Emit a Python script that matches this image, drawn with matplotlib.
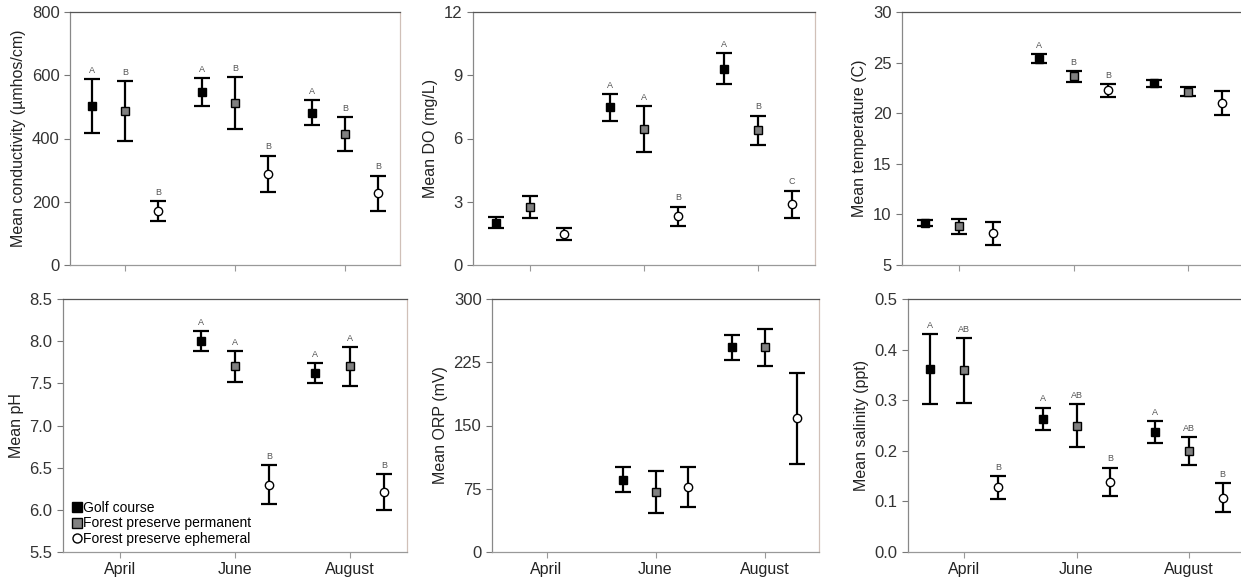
import matplotlib
matplotlib.use("Agg")
import matplotlib.pyplot as plt
import numpy as np
from matplotlib.lines import Line2D

plt.rcParams['font.family'] = ['Liberation Sans', 'DejaVu Sans']

months = ["April", "June", "August"]
groups = ["Golf course", "Forest preserve permanent", "Forest preserve ephemeral"]

# conductivity
cond_mean = [[502, 547, 482], [487, 513, 415], [170, 289, 227]]
cond_err = [[86, 44, 40], [94, 82, 54], [31, 57, 56]]
cond_let = [["A", "A", "A"], ["B", "B", "B"], ["B", "B", "B"]]

# DO
do_mean = [[2.0, 7.48, 9.32], [2.75, 6.44, 6.38], [1.47, 2.32, 2.89]]
do_err = [[0.26, 0.63, 0.72], [0.52, 1.09, 0.71], [0.28, 0.45, 0.64]]
do_let = [["", "A", "A"], ["", "A", "B"], ["", "B", "C"]]

# temperature
temp_mean = [[9.18, 25.4, 22.96], [8.82, 23.65, 22.14], [8.12, 22.27, 21.02]]
temp_err = [[0.3, 0.45, 0.35], [0.74, 0.55, 0.43], [1.1, 0.64, 1.2]]
temp_let = [["", "A", ""], ["", "B", ""], ["", "B", ""]]

# pH (no April data)
ph_mean = [[np.nan, 8.0, 7.62], [np.nan, 7.70, 7.70], [np.nan, 6.30, 6.21]]
ph_err = [[np.nan, 0.115, 0.12], [np.nan, 0.185, 0.23], [np.nan, 0.235, 0.21]]
ph_let = [["", "A", "A"], ["", "A", "A"], ["", "B", "B"]]

# ORP (no April data)
orp_mean = [[np.nan, 85.6, 242.6], [np.nan, 71.0, 243.0], [np.nan, 77.3, 158.5]]
orp_err = [[np.nan, 14.7, 15.0], [np.nan, 24.5, 22.0], [np.nan, 23.5, 53.6]]
orp_let = [["", "", ""], ["", "", ""], ["", "", ""]]

# salinity
sal_mean = [[0.361, 0.2635, 0.237], [0.359, 0.250, 0.199], [0.1275, 0.1387, 0.1077]]
sal_err = [[0.069, 0.022, 0.022], [0.064, 0.042, 0.028], [0.023, 0.028, 0.029]]
sal_let = [["A", "A", "A"], ["AB", "AB", "AB"], ["B", "B", "B"]]

W, H = 1241, 583
fig = plt.figure(figsize=(W / 100, H / 100), dpi=100)


def rect(l, r, t, b):
    return [l / W, 1 - b / H, (r - l) / W, (b - t) / H]


panels = [
    (rect(70, 400, 12, 265), cond_mean, cond_err, cond_let, (0, 800), [0, 200, 400, 600, 800],
     "Mean conductivity (µmhos/cm)", None, False),
    (rect(473, 815, 12, 265), do_mean, do_err, do_let, (0, 12), [0, 3, 6, 9, 12],
     "Mean DO (mg/L)", None, False),
    (rect(902, 1245, 12, 265), temp_mean, temp_err, temp_let, (5, 30), [5, 10, 15, 20, 25, 30],
     "Mean temperature (C)", None, False),
    (rect(63, 407, 299, 552), ph_mean, ph_err, ph_let, (5.5, 8.5), [5.5, 6.0, 6.5, 7.0, 7.5, 8.0, 8.5],
     "Mean pH", "{:.1f}", True),
    (rect(492, 819, 299, 552), orp_mean, orp_err, orp_let, (0, 300), [0, 75, 150, 225, 300],
     "Mean ORP (mV)", None, True),
    (rect(908, 1245, 299, 552), sal_mean, sal_err, sal_let, (0, 0.5), [0.0, 0.1, 0.2, 0.3, 0.4, 0.5],
     "Mean salinity (ppt)", "{:.1f}", True),
]

offsets = [-0.3, 0.0, 0.3]
styles = [
    dict(marker="s", mfc="black", mec="black", ms=6),
    dict(marker="s", mfc="#808080", mec="black", ms=6, mew=1.0),
    dict(marker="o", mfc="white", mec="black", ms=6, mew=1.0),
]

x = np.arange(len(months))
for i, (pos, means, errs, lets, ylim, yt, ylab, fmt, show_x) in enumerate(panels):
    ax = fig.add_axes(pos)
    for g in range(3):
        m = np.array(means[g], dtype=float)
        e = np.array(errs[g], dtype=float)
        xs = x + offsets[g]
        ax.errorbar(xs, m, yerr=e, fmt="none", ecolor="black", elinewidth=1.6,
                    capsize=5.5, capthick=1.6, zorder=2)
        ax.plot(xs, m, ls="none", zorder=3, **styles[g])
        for k in range(3):
            if lets[g][k] and not np.isnan(m[k]):
                ax.annotate(lets[g][k], (xs[k], m[k] + e[k]), xytext=(0, 3),
                            textcoords="offset points", ha="center", va="bottom",
                            fontsize=6.5, color="#555555")
    ax.set_xlim(-0.5, 2.5)
    ax.set_ylim(*ylim)
    ax.set_yticks(yt)
    if fmt:
        ax.set_yticklabels([fmt.format(v) for v in yt])
    ax.set_xticks(x)
    if show_x:
        ax.set_xticklabels(months, fontsize=11.5)
    else:
        ax.set_xticklabels([])
    ax.set_ylabel(ylab, fontsize=11.5, color="#222222")
    ax.tick_params(axis="y", labelsize=12, direction="out", length=4, width=0.8,
                   color="#777777", labelcolor="#333333")
    ax.tick_params(axis="x", direction="out", length=4, width=0.8, color="#999999",
                   labelcolor="#222222")
    ax.spines["top"].set_color("#555555")
    ax.spines["left"].set_color("#888888")
    ax.spines["bottom"].set_color("#999999")
    ax.spines["right"].set_color("#d0c0b8")
    for s in ax.spines.values():
        s.set_linewidth(0.9)

    if i == 3:
        handles = [Line2D([], [], ls="none", **dict(styles[g], ms=6.5)) for g in range(3)]
        ax.legend(handles, groups, loc="lower left", frameon=False, fontsize=10,
                  handlelength=0.6, handletextpad=0.15, labelspacing=0.1,
                  borderaxespad=0.05, bbox_to_anchor=(0.01, 0.0))

fig.savefig("out.png", dpi=100)
